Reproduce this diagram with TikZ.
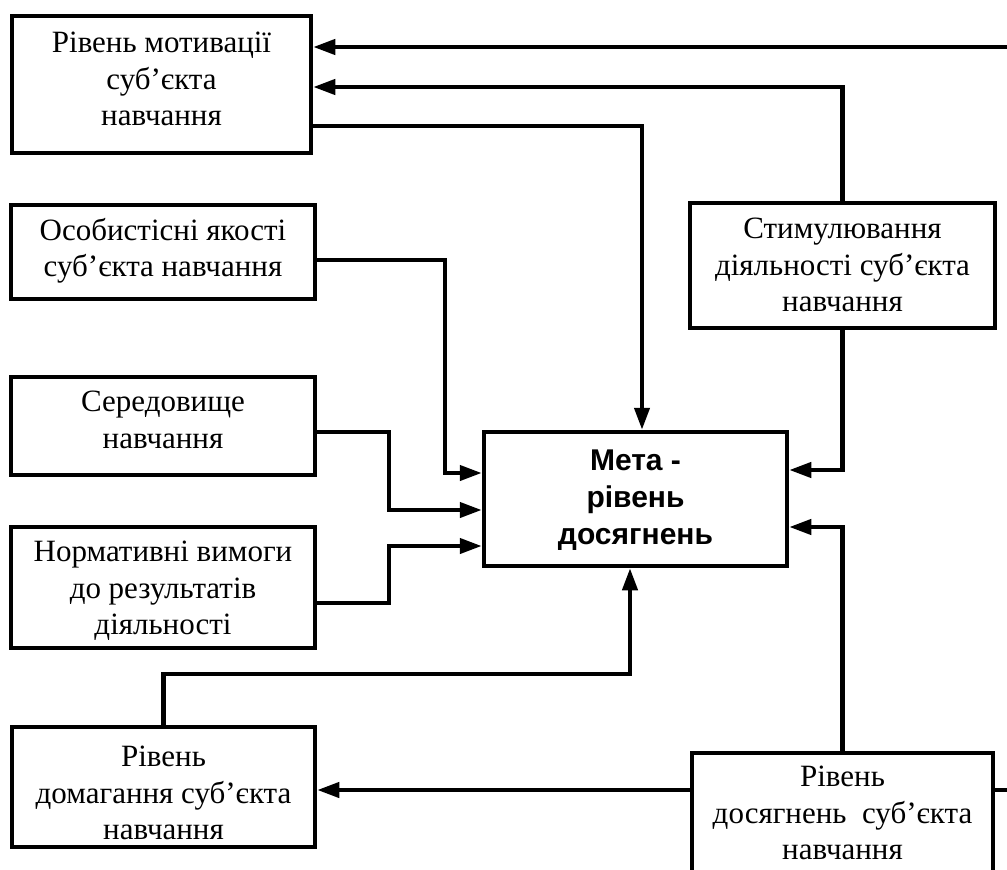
\documentclass[tikz,border=0pt]{standalone}
\usepackage{fontspec}
\setmainfont{Liberation Serif}
\newfontfamily\boldsans{Liberation Sans}
\usetikzlibrary{arrows.meta}
\begin{document}
\begin{tikzpicture}[x=1pt,y=-1pt,
  frame/.style={draw, line width=4.5pt, inner sep=0pt},
  lbl/.style={inner sep=0pt, anchor=north, align=center,
              font=\fontsize{31}{36.5}\selectfont},
  goal/.style={inner sep=0pt, anchor=north, align=center,
              font=\boldsans\bfseries\fontsize{30}{37}\selectfont},
  link/.style={line width=4.2pt},
  arr/.style={link, -{Triangle[length=22pt,width=15pt]}},
]
\useasboundingbox (0,0) rectangle (1007,870);
\clip (0,0) rectangle (1007,870);

% boxes
\node[frame, minimum width=299pt, minimum height=137pt] (mot)  at (161.5,84.5) {};
\node[frame, minimum width=304pt, minimum height=94pt]  (pers) at (163,252) {};
\node[frame, minimum width=304pt, minimum height=98pt]  (env)  at (163,426) {};
\node[frame, minimum width=304pt, minimum height=121pt] (norm) at (163,587.5) {};
\node[frame, minimum width=305pt, minimum height=125pt] (stim) at (842.5,265.5) {};
\node[frame, minimum width=303pt, minimum height=134pt] (meta) at (635.5,499) {};
\node[frame, minimum width=303pt, minimum height=120pt] (asp)  at (163.5,787) {};
\node[frame, minimum width=301pt, minimum height=147pt] (ach)  at (842.5,826.5) {};

% labels
\node[lbl] (motT)  at (161.5,32) {Рівень мотивації\\суб’єкта\\навчання};
\node[lbl] (persT) at (163,218) {Особистісні якості\\суб’єкта навчання};
\node[lbl] (envT)  at (163,391) {Середовище\\навчання};
\node[lbl] (normT) at (163,541) {Нормативні вимоги\\до результатів\\діяльності};
\node[lbl] (stimT) at (842.5,218) {Стимулювання\\діяльності суб’єкта\\навчання};
\node[goal] (metaT) at (635.5,450) {Мета -\\рівень\\досягнень};
\node[lbl] (aspT)  at (163.5,746) {Рівень\\домагання суб’єкта\\навчання};
\node[lbl] (achT)  at (842.5,766) {Рівень\\досягнень\ \ суб’єкта\\навчання};

% connectors
\draw[arr] (ach.east |- 0,790) -- (1030,790) |- (mot.east |- 0,47);
\draw[arr] (stim.north) |- (mot.east |- 0,87);
\draw[arr] (mot.east |- 0,126) -| (meta.north -| 642,0);
\draw[arr] (pers.east |- 0,260) -| (445,473) -- (meta.west |- 0,473);
\draw[arr] (env.east |- 0,432) -| (389,510) -- (meta.west |- 0,510);
\draw[arr] (norm.east |- 0,603) -| (389,546) -- (meta.west |- 0,546);
\draw[arr] (stim.south) |- (meta.east |- 0,470);
\draw[arr] (ach.north) |- (meta.east |- 0,527);
\draw[arr] (asp.north) |- (630,674) -- (meta.south -| 630,0);
\draw[arr] (ach.west |- 0,790) -- (asp.east |- 0,790);
\end{tikzpicture}
\end{document}
